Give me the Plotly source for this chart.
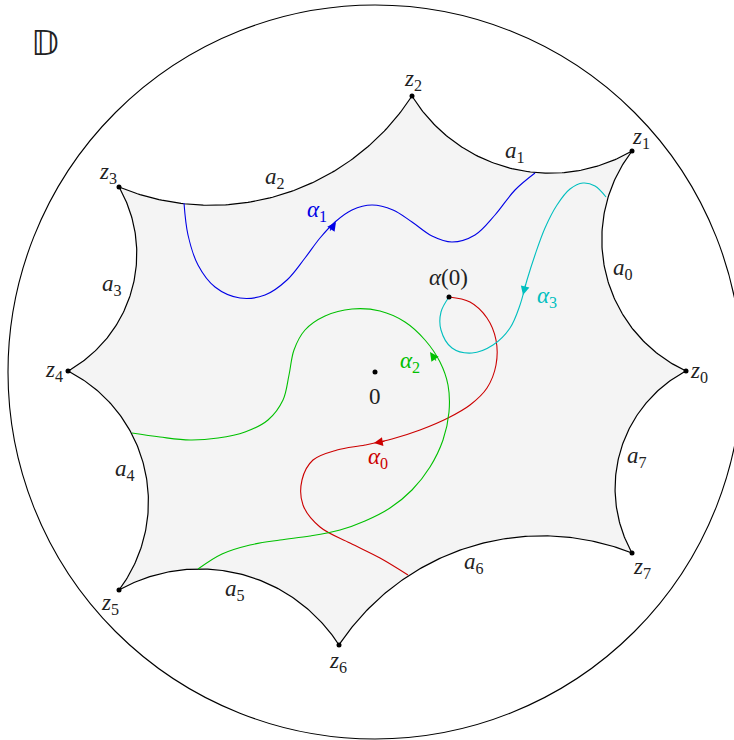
import numpy as np
import plotly.graph_objects as go

# Disk radius in drawing units (origin = disk centre, y up)
R = 367

# Polygon vertices z0..z7
vert_names = ["z0", "z1", "z2", "z3", "z4", "z5", "z6", "z7"]
vert_x = [311, 257, 37, -256, -307, -256, -36, 257]
vert_y = [1, 221, 276, 185, 1, -218, -273, -181]

# Curves
alpha0_x = [74, 95, 112, 121, 121, 112, 95, 73, 45, 17, -10, -38, -62, -73, -72, -55, -25, 5, 33]
alpha0_y = [75, 70, 54, 32, 7, -16, -33, -46, -58, -67, -73, -78, -88, -108, -133, -155, -171, -186, -203]

alpha1_x = [-191, -187, -177, -160, -135, -110, -88, -70, -55, -40, -23, -3, 18, 37, 57, 77, 100, 120, 140, 160]
alpha1_y = [169, 137, 107, 85, 74, 77, 92, 114, 134, 150, 162, 167, 162, 150, 136, 130, 137, 157, 182, 199]

alpha2_x = [-177, -153, -125, -95, -65, -35, -10, 15, 37, 55, 68, 74, 73, 65, 50, 30, 5, -23, -50, -70, -81, -86, -92, -107, -130, -157, -185, -215, -243]
alpha2_y = [-197, -182, -173, -168, -164, -158, -149, -136, -118, -95, -68, -40, -13, 10, 32, 50, 61, 63, 56, 42, 22, -3, -28, -48, -60, -66, -68, -65, -61]

alpha3_x = [231, 220, 208, 195, 182, 170, 160, 152, 145, 135, 118, 97, 77, 66, 66, 74]
alpha3_y = [175, 186, 189, 183, 167, 144, 117, 92, 67, 44, 27, 19, 24, 42, 60, 75]

# Arrow heads / tails along curves
arrow_head_x = [-1, -39, 55, 148]
arrow_head_y = [-71, 150, 20, 77]
arrow_tail_x = [11, -46, 62, 151]
arrow_tail_y = [-69, 140, 10, 89]

curve_colors = ["#cc0000", "#0000e6", "#00c000", "#00bfbf"]

# Special points
start_pt = (74, 75)
origin_pt = (0, 0)

# Labels
vert_labels = ["<i>z</i><sub>0</sub>", "<i>z</i><sub>1</sub>", "<i>z</i><sub>2</sub>", "<i>z</i><sub>3</sub>",
               "<i>z</i><sub>4</sub>", "<i>z</i><sub>5</sub>", "<i>z</i><sub>6</sub>", "<i>z</i><sub>7</sub>"]
vert_label_x = [324, 266, 38, -267, -321, -265, -37, 267]
vert_label_y = [0, 234, 292, 199, 1, -232, -290, -196]

side_labels = ["<i>a</i><sub>%d</sub>" % i for i in range(8)]
side_label_x = [248, 140, -100, -263, -250, -140, 99, 262]
side_label_y = [103, 220, 194, 87, -98, -218, -191, -85]

curve_labels = ["<i>α</i><sub>0</sub>", "<i>α</i><sub>1</sub>", "<i>α</i><sub>2</sub>", "<i>α</i><sub>3</sub>"]
curve_label_x = [3, -58, 35, 172]
curve_label_y = [-86, 161, 10, 75]


def geodesic(p, q, n=120):
    p = np.array(p, float) / R
    q = np.array(q, float) / R
    A = np.array([[2 * p[0], 2 * p[1]], [2 * q[0], 2 * q[1]]])
    b = np.array([p @ p + 1, q @ q + 1])
    c = np.linalg.solve(A, b)
    r = np.sqrt(c @ c - 1)
    a1 = np.arctan2(p[1] - c[1], p[0] - c[0])
    a2 = np.arctan2(q[1] - c[1], q[0] - c[0])
    d = (a2 - a1 + np.pi) % (2 * np.pi) - np.pi
    t = a1 + d * np.linspace(0, 1, n)
    return (c[0] + r * np.cos(t)) * R, (c[1] + r * np.sin(t)) * R


poly_x, poly_y = [], []
for i in range(8):
    j = (i + 1) % 8
    gx, gy = geodesic((vert_x[i], vert_y[i]), (vert_x[j], vert_y[j]))
    poly_x += list(gx)
    poly_y += list(gy)

fig = go.Figure()
fig.add_shape(type="circle", x0=-R, y0=-R, x1=R, y1=R, line=dict(color="black", width=1.1), layer="below")

fig.add_trace(go.Scatter(x=poly_x, y=poly_y, mode="lines", fill="toself", fillcolor="#f4f4f4",
                         line=dict(color="black", width=1.2), hoverinfo="skip"))

curves = [(alpha0_x, alpha0_y), (alpha1_x, alpha1_y), (alpha2_x, alpha2_y), (alpha3_x, alpha3_y)]
for (cx, cy), col in zip(curves, curve_colors):
    fig.add_trace(go.Scatter(x=cx, y=cy, mode="lines", line=dict(color=col, width=1.1, shape="spline", smoothing=1.0),
                             hoverinfo="skip"))

fig.add_trace(go.Scatter(x=vert_x + [start_pt[0], origin_pt[0]], y=vert_y + [start_pt[1], origin_pt[1]],
                         mode="markers", marker=dict(color="black", size=5), hoverinfo="skip"))

font_family = "Liberation Serif"
for hx, hy, tx, ty, col in zip(arrow_head_x, arrow_head_y, arrow_tail_x, arrow_tail_y, curve_colors):
    fig.add_annotation(x=hx, y=hy, ax=tx, ay=ty, xref="x", yref="y", axref="x", ayref="y",
                       text="", showarrow=True, arrowhead=2, arrowsize=1.6, arrowwidth=1.1, arrowcolor=col)

for t, x, y in zip(vert_labels, vert_label_x, vert_label_y):
    fig.add_annotation(x=x, y=y, text=t, showarrow=False, font=dict(family=font_family, size=23, color="#222"))
for t, x, y in zip(side_labels, side_label_x, side_label_y):
    fig.add_annotation(x=x, y=y, text=t, showarrow=False, font=dict(family=font_family, size=23, color="#222"))
for t, x, y, col in zip(curve_labels, curve_label_x, curve_label_y, curve_colors):
    fig.add_annotation(x=x, y=y, text=t, showarrow=False, font=dict(family=font_family, size=23, color=col))

fig.add_annotation(x=start_pt[0] - 1, y=start_pt[1] + 20, text="<i>α</i>(0)", showarrow=False,
                   font=dict(family=font_family, size=23, color="#222"))
fig.add_annotation(x=origin_pt[0], y=origin_pt[1] - 24, text="0", showarrow=False,
                   font=dict(family=font_family, size=23, color="#222"))
fig.add_annotation(x=-330, y=329, text="𝔻", showarrow=False,
                   font=dict(family="DejaVu Sans", size=34, color="#222"))

fig.update_layout(width=734, height=740, margin=dict(l=0, r=0, t=0, b=0),
                  paper_bgcolor="white", plot_bgcolor="white", showlegend=False,
                  xaxis=dict(range=[-375, 359], visible=False, fixedrange=True),
                  yaxis=dict(range=[-368, 372], visible=False, fixedrange=True))

fig.write_html("out.html", config={"displayModeBar": False},
               post_script="document.body.style.margin='0';document.body.style.padding='0';")
